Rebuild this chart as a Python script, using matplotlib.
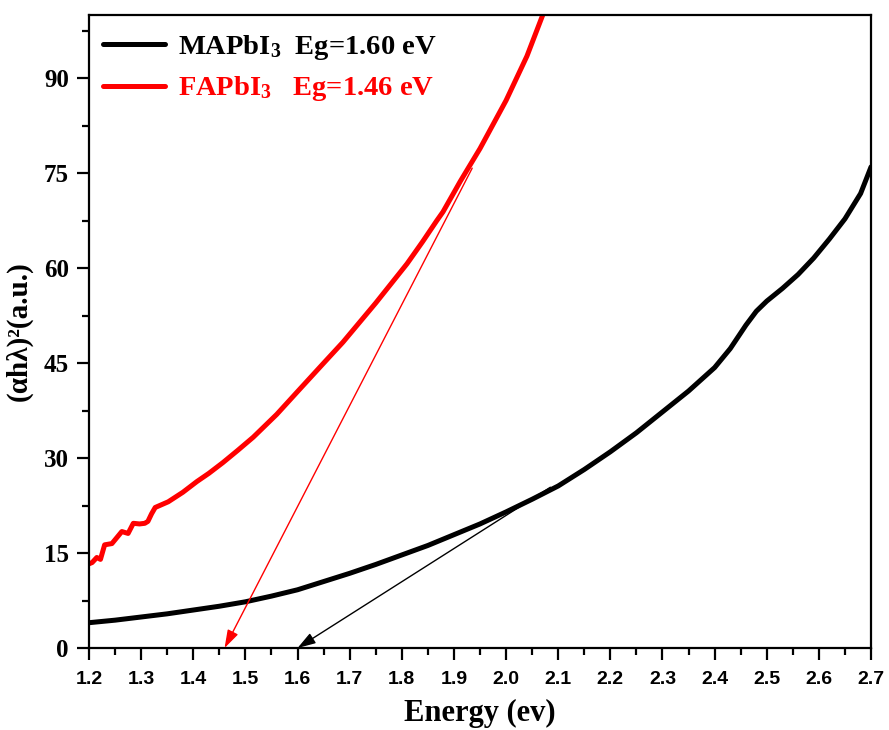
import matplotlib
matplotlib.use("Agg")
import matplotlib.pyplot as plt
import numpy as np

plt.rcParams['mathtext.fontset'] = 'custom'
plt.rcParams['mathtext.rm'] = 'Liberation Serif:bold'
plt.rcParams['mathtext.bf'] = 'Liberation Serif:bold'
plt.rcParams['mathtext.it'] = 'Liberation Serif:bold'

# MAPbI3 data
ma_x = [1.20, 1.25, 1.30, 1.35, 1.40, 1.45, 1.50, 1.55, 1.60, 1.65, 1.70, 1.75, 1.80,
        1.85, 1.90, 1.95, 2.00, 2.05, 2.10, 2.15, 2.20, 2.25, 2.30, 2.35, 2.40, 2.43,
        2.46, 2.48, 2.50, 2.53, 2.56, 2.59, 2.62, 2.65, 2.68, 2.70]
ma_y = [4.0, 4.4, 4.9, 5.4, 6.0, 6.6, 7.3, 8.2, 9.2, 10.5, 11.8, 13.2, 14.7,
        16.2, 17.9, 19.6, 21.5, 23.5, 25.6, 28.2, 31.0, 34.0, 37.3, 40.6, 44.3, 47.3,
        51.0, 53.2, 54.8, 56.8, 59.0, 61.6, 64.6, 67.8, 71.8, 76.0]

# FAPbI3 data
fa_x = [1.200, 1.206, 1.215, 1.222, 1.230, 1.244, 1.255, 1.263, 1.275, 1.285, 1.297,
        1.307, 1.313, 1.320, 1.327, 1.352, 1.380, 1.407, 1.430, 1.457, 1.485, 1.515,
        1.560, 1.601, 1.650, 1.687, 1.750, 1.810, 1.840, 1.867, 1.879, 1.912, 1.950,
        2.000, 2.040, 2.075]
fa_y = [13.3, 13.5, 14.3, 14.0, 16.3, 16.5, 17.6, 18.4, 18.1, 19.7, 19.6,
        19.7, 20.0, 21.2, 22.2, 23.1, 24.6, 26.3, 27.6, 29.3, 31.2, 33.3,
        36.9, 40.6, 45.0, 48.3, 54.5, 60.7, 64.2, 67.5, 68.9, 73.7, 78.9,
        86.5, 93.5, 101.0]

eg_ma = 1.60
eg_fa = 1.46
tan_ma = (2.085, 25.4)
tan_fa = (1.935, 75.8)

fig = plt.figure(figsize=(8.89, 7.30), dpi=100)
ax = fig.add_axes([0.1001, 0.1123, 0.8797, 0.8672])

ax.plot(ma_x, ma_y, color='black', lw=3.6, label=r'MAPbI$_3$  Eg=1.60 eV', solid_capstyle='round',
        solid_joinstyle='round')
ax.plot(fa_x, fa_y, color='#ff0000', lw=3.6, label=r'FAPbI$_3$   Eg=1.46 eV', solid_capstyle='round',
        solid_joinstyle='round')

ax.annotate('', xy=(eg_fa, 0), xytext=tan_fa,
            arrowprops=dict(arrowstyle='-|>,head_length=1.1,head_width=0.35', color='#ff0000', lw=1.0,
                            shrinkA=0, shrinkB=0))
ax.annotate('', xy=(eg_ma, 0), xytext=tan_ma,
            arrowprops=dict(arrowstyle='-|>,head_length=1.1,head_width=0.35', color='black', lw=1.0,
                            shrinkA=0, shrinkB=0))

ax.set_xlim(1.2, 2.7)
ax.set_ylim(0, 100)
xt = np.round(np.arange(1.2, 2.71, 0.1), 2)
ax.set_xticks(xt)
ax.set_xticks(np.round(np.arange(1.25, 2.7, 0.1), 2), minor=True)
ax.set_yticks(np.arange(0, 91, 15))
ax.set_yticks(np.arange(7.5, 100, 15), minor=True)
ax.set_xticklabels([f'{v:.1f}' for v in xt],
                   fontfamily='Liberation Sans', fontweight='bold', fontsize=14)
ax.set_yticklabels([str(v) for v in range(0, 91, 15)],
                   fontfamily='Liberation Serif', fontweight='bold', fontsize=18)

ax.tick_params(which='major', direction='out', length=8.5, width=1.6)
ax.tick_params(axis='x', which='major', pad=8)
ax.tick_params(axis='y', which='major', pad=6)
ax.tick_params(which='minor', direction='out', length=5, width=1.6)
for s in ax.spines.values():
    s.set_linewidth(1.6)

ax.set_xlabel('Energy (ev)', fontfamily='Liberation Serif', fontweight='bold', fontsize=22, labelpad=8)
ax.set_ylabel('(αhλ)²(a.u.)', fontfamily='Liberation Serif', fontweight='bold', fontsize=21, labelpad=8)

leg = ax.legend(loc='upper left', bbox_to_anchor=(0.003, 0.99), frameon=False,
                prop=dict(family='Liberation Serif', weight='bold', size=20.5),
                handlelength=2.2, handletextpad=0.45, borderaxespad=0.0, labelspacing=0.45)
for t, c in zip(leg.get_texts(), ['black', '#ff0000']):
    t.set_color(c)

fig.savefig('out.png', dpi=100)
